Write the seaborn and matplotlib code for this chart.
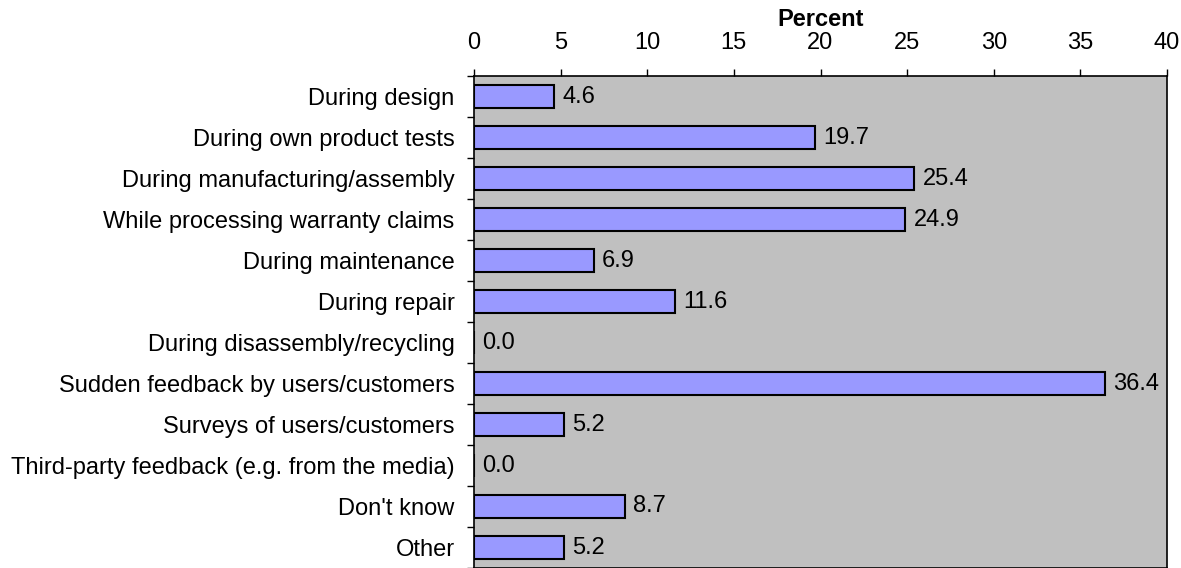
import matplotlib
matplotlib.use("Agg")
import matplotlib.pyplot as plt
import seaborn as sns
import pandas as pd
import numpy as np

categories = [
    "During design",
    "During own product tests",
    "During manufacturing/assembly",
    "While processing warranty claims",
    "During maintenance",
    "During repair",
    "During disassembly/recycling",
    "Sudden feedback by users/customers",
    "Surveys of users/customers",
    "Third-party feedback (e.g. from the media)",
    "Don't know",
    "Other",
]
percent = [4.6, 19.7, 25.4, 24.9, 6.9, 11.6, 0.0, 36.4, 5.2, 0.0, 8.7, 5.2]
x_ticks = [0, 5, 10, 15, 20, 25, 30, 35, 40]

sns.set_theme(style="white")
plt.rcParams["font.family"] = ["Liberation Sans", "DejaVu Sans"]
plt.rcParams["text.color"] = "black"
plt.rcParams["axes.labelcolor"] = "black"
plt.rcParams["xtick.labelcolor"] = "black"
plt.rcParams["ytick.labelcolor"] = "black"

FS = 17

df = pd.DataFrame({"category": categories, "percent": percent})

fig = plt.figure(figsize=(11.81, 5.68), dpi=100)
ax = fig.add_axes([474 / 1181, 0.0, (1167 - 474) / 1181, (568 - 76) / 568])
ax.set_facecolor("#C0C0C0")

sns.barplot(data=df, x="percent", y="category", orient="h", color="#9999FF",
            saturation=1, edgecolor="black", linewidth=1.5, width=0.58, ax=ax)

for c in ax.containers:
    ax.bar_label(c, labels=[f"{v:.1f}" for v in percent], padding=6,
                 fontsize=FS, color="black")

n = len(categories)
ax.set_xlim(0, 40)
ax.set_ylim(n - 0.5, -0.5)
ax.xaxis.tick_top()
ax.xaxis.set_label_position("top")
ax.set_xticks(x_ticks)
ax.set_xticklabels([str(t) for t in x_ticks], fontsize=FS, color="black")
ax.tick_params(axis="x", direction="out", length=5, width=1, color="black",
               pad=10.5, top=True, bottom=False)
ax.set_xlabel("Percent", fontsize=FS, fontweight="bold", labelpad=5,
              color="black")
ax.set_ylabel("")

ax.set_yticks(range(n))
ax.set_yticklabels(categories, fontsize=FS, color="black")
ax.set_yticks(np.arange(-0.5, n, 1.0), minor=True)
ax.tick_params(axis="y", which="major", length=0, pad=14)
ax.tick_params(axis="y", which="minor", direction="out", length=5, width=1,
               color="black", left=True)

for side in ["top", "left", "right", "bottom"]:
    ax.spines[side].set_visible(True)
    ax.spines[side].set_color("black")
    ax.spines[side].set_linewidth(1.2)

fig.savefig("out.png", dpi=100, facecolor="white")
